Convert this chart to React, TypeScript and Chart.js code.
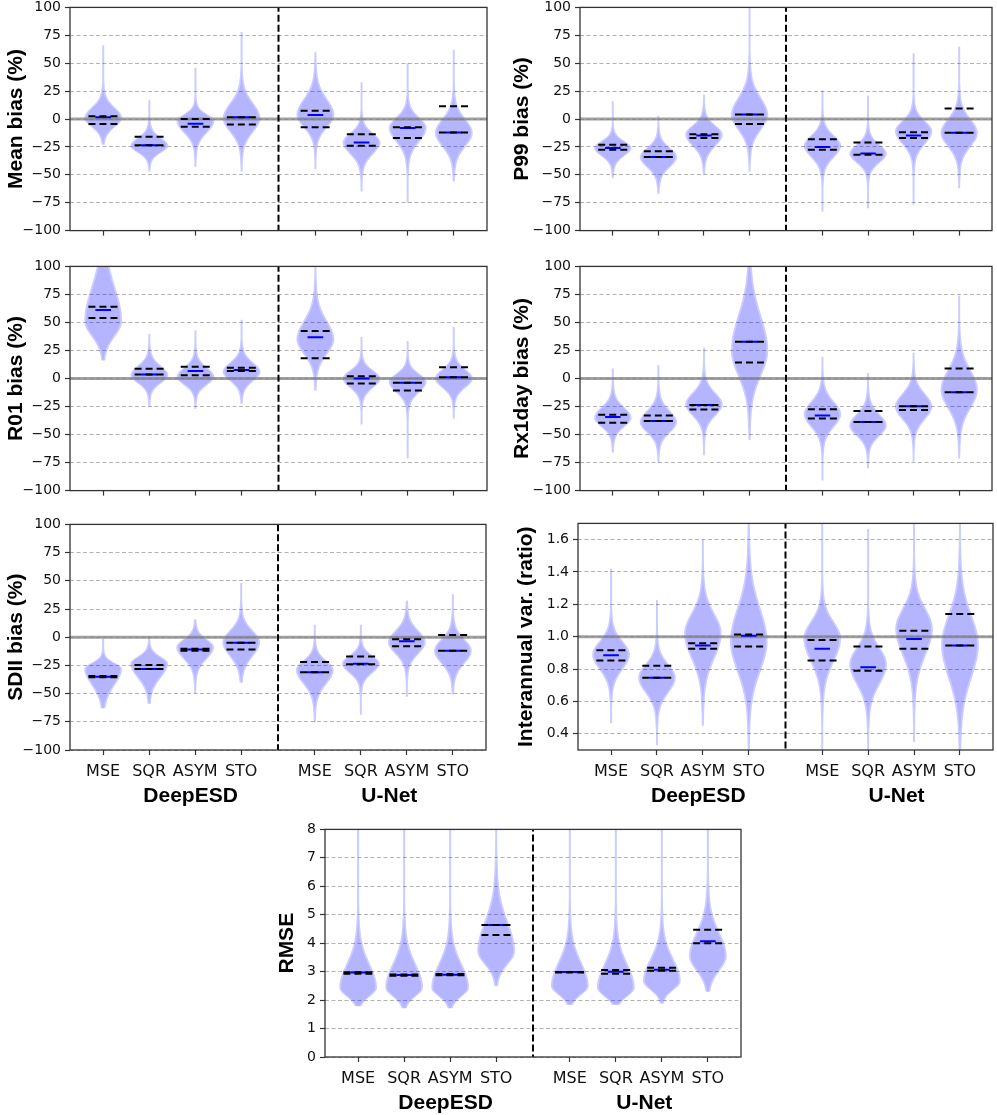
import React, { useEffect, useRef } from 'react';
import { Chart, registerables } from 'chart.js';

Chart.register(...registerables);

// ---------- categories & ticks ----------
const methodLabels = ['MSE', 'SQR', 'ASYM', 'STO', 'MSE', 'SQR', 'ASYM', 'STO'];
const modelLabels = ['DeepESD', 'U-Net'];
const violinPositions = [1, 2, 3, 4, 5.6, 6.6, 7.6, 8.6];
const modelLabelPositions = [2.9, 7.22];
const separatorPosition = 4.8;
const xMin = 0.28;
const xMax = 9.32;
const biasTicks = [-100, -75, -50, -25, 0, 25, 50, 75, 100];
const ratioTicks = [0.4, 0.6, 0.8, 1.0, 1.2, 1.4, 1.6];
const rmseTicks = [0, 1, 2, 3, 4, 5, 6, 7, 8];

// ---------- Mean bias (%) ----------
const meanMedian = [1.5, -23.5, -4.2, 1.5, 3.6, -21, -8, -12];
const meanUpperDash = [2.5, -16, 0, 1.5, 7.4, -13.6, -7.5, 11.5];
const meanLowerDash = [-4.5, -23.5, -7, -5, -7.4, -24, -17, -12];
const meanMode = [1, -24, -2, 0.7, 3.6, -21, -8, -12.4];
const meanSpreadUp = [9, 7, 6, 13, 14, 8, 9, 12];
const meanSpreadDown = [8, 6, 10, 12, 11, 10, 12, 12];
const meanMin = [-23, -47, -43, -47, -45, -65, -75, -56];
const meanMax = [66, 17, 46, 78, 60, 33, 50, 62];

// ---------- P99 bias (%) ----------
const p99Median = [-26, -34, -14.7, 4, -25, -31, -14.7, -12.4];
const p99UpperDash = [-23, -28.8, -13.6, 4, -18.2, -21, -11.8, 9.5];
const p99LowerDash = [-27.6, -34, -17, -4.5, -27.6, -32, -17, -12.4];
const p99Mode = [-26, -34, -14, 3.6, -24, -31, -11, -12.4];
const p99SpreadUp = [6, 8, 8, 15, 9, 8, 9, 12];
const p99SpreadDown = [7, 9, 10, 13, 10, 8, 11, 12];
const p99Min = [-53, -67, -50, -47, -83, -80, -76.6, -62];
const p99Max = [16, 3, 22, 115, 25.5, 21, 59, 65];

// ---------- R01 bias (%) ----------
const r01Median = [61, 3.5, 6.7, 7.6, 36.7, 0, -3.8, 1.2];
const r01UpperDash = [64, 8.7, 10.5, 9.6, 42.3, 2, -3.8, 10];
const r01LowerDash = [54, 3.5, 3, 6.7, 18, -4.4, -10.8, 1.2];
const r01Mode = [51, 3, 1.5, 6, 35, 0, -3, 0];
const r01SpreadUp = [30, 8, 8, 8, 16, 7, 7, 8];
const r01SpreadDown = [13, 7, 7, 8, 13, 8, 9, 8];
const r01Min = [16, -25, -27, -22.5, -11, -41, -71.4, -36];
const r01Max = [140, 40, 43, 52.5, 110, 37, 33.5, 46];

// ---------- Rx1day bias (%) ----------
const rx1Median = [-34.4, -38, -23.6, 32.7, -33, -38.8, -24.8, -12.2];
const rx1UpperDash = [-32.4, -33, -23.6, 32.7, -27.4, -28.9, -24.8, 9];
const rx1LowerDash = [-39.4, -38, -27.7, 14.3, -35.6, -38.8, -28, -12.2];
const rx1Mode = [-35, -39, -23, 25, -32, -42, -25, -10];
const rx1SpreadUp = [9, 10, 10, 30, 11, 10, 11, 17];
const rx1SpreadDown = [8, 9, 10, 22, 11, 9, 11, 16];
const rx1Min = [-66, -75, -68.5, -54.8, -91, -80, -74, -71.4];
const rx1Max = [9, 12, 27.7, 115, 19.5, 5, 23, 74];

// ---------- SDII bias (%) ----------
const sdiiMedian = [-35, -28.2, -11, -5, -31, -23.5, -3.6, -12];
const sdiiUpperDash = [-34.5, -24.7, -10.3, -5, -22, -17, -1.9, 2];
const sdiiLowerDash = [-35.5, -28.2, -12, -11, -31, -24, -8, -12];
const sdiiMode = [-28, -23.5, -9, -4.5, -29, -23.5, -4.5, -12];
const sdiiSpreadUp = [5, 6, 7, 10, 8, 7, 10, 10];
const sdiiSpreadDown = [14, 12, 10, 12, 12, 8, 10, 11];
const sdiiMin = [-63, -59, -50, -40.4, -75.5, -68.7, -52.7, -50.7];
const sdiiMax = [-1.6, 0.4, 16, 48, 11, 11, 32.5, 38];

// ---------- Interannual var. (ratio) ----------
const ivarMedian = [0.886, 0.747, 0.945, 1.006, 0.925, 0.812, 0.986, 0.945];
const ivarUpperDash = [0.916, 0.82, 0.96, 1.014, 0.98, 0.94, 1.037, 1.14];
const ivarLowerDash = [0.853, 0.747, 0.925, 0.94, 0.853, 0.79, 0.925, 0.945];
const ivarMode = [0.89, 0.747, 1.02, 0.97, 0.99, 0.83, 1.05, 0.95];
const ivarSpreadUp = [0.08, 0.08, 0.12, 0.2, 0.1, 0.1, 0.12, 0.18];
const ivarSpreadDown = [0.09, 0.09, 0.15, 0.18, 0.14, 0.12, 0.16, 0.2];
const ivarMin = [0.465, 0.33, 0.45, 0.2, 0.25, 0.25, 0.35, 0.25];
const ivarMax = [1.42, 1.227, 1.6, 2.0, 1.9, 1.665, 1.9, 1.9];

// ---------- RMSE ----------
const rmseMedian = [2.97, 2.88, 2.89, 4.64, 2.99, 3.0, 3.07, 4.07];
const rmseUpperDash = [2.98, 2.9, 2.92, 4.64, 2.99, 3.06, 3.14, 4.47];
const rmseLowerDash = [2.93, 2.86, 2.87, 4.29, 2.97, 2.93, 3.03, 4.0];
const rmseMode = [2.44, 2.44, 2.44, 3.72, 2.5, 2.44, 2.67, 3.55];
const rmseSpreadUp = [0.8, 0.8, 0.8, 1.0, 0.8, 0.8, 0.75, 0.8];
const rmseSpreadDown = [0.3, 0.3, 0.3, 0.45, 0.3, 0.3, 0.3, 0.5];
const rmseMin = [1.78, 1.71, 1.71, 2.5, 1.84, 1.84, 1.88, 2.29];
const rmseMax = [10, 10, 10, 10, 10, 10, 10, 10];

// ---------- styling / layout ----------
const VIOLIN_HALF = 0.41;
const MEDIAN_HALF = 0.17;
const DASH_HALF = 0.32;
const TITLE_FONT = { family: 'Liberation Sans', size: 21, weight: 'bold' as const };
const TICK_FONT = { family: 'DejaVu Sans', size: 14 };
const XLABEL_FONT = { family: 'DejaVu Sans', size: 16 };

const minus = (v: number) => (v < 0 ? '\u2212' + Math.abs(v) : String(v));

type Stats = {
  median: number[]; upper: number[]; lower: number[]; mode: number[];
  up: number[]; down: number[]; min: number[]; max: number[];
};
type PanelSpec = {
  title: string; L: number; T: number; R: number; B: number; titleX: number;
  xLabels: boolean; yMin: number; yMax: number; ticks: number[];
  fmt: (v: number) => string; ref: number | null; stats: Stats;
};

const panels: PanelSpec[] = [
  { title: 'Mean bias (%)', L: 70, T: 5, R: 487, B: 233, titleX: 17, xLabels: false, yMin: -100, yMax: 100, ticks: biasTicks, fmt: minus, ref: 0,
    stats: { median: meanMedian, upper: meanUpperDash, lower: meanLowerDash, mode: meanMode, up: meanSpreadUp, down: meanSpreadDown, min: meanMin, max: meanMax } },
  { title: 'P99 bias (%)', L: 580, T: 5, R: 992, B: 233, titleX: 523, xLabels: false, yMin: -100, yMax: 100, ticks: biasTicks, fmt: minus, ref: 0,
    stats: { median: p99Median, upper: p99UpperDash, lower: p99LowerDash, mode: p99Mode, up: p99SpreadUp, down: p99SpreadDown, min: p99Min, max: p99Max } },
  { title: 'R01 bias (%)', L: 70, T: 264, R: 487, B: 493, titleX: 17, xLabels: false, yMin: -100, yMax: 100, ticks: biasTicks, fmt: minus, ref: 0,
    stats: { median: r01Median, upper: r01UpperDash, lower: r01LowerDash, mode: r01Mode, up: r01SpreadUp, down: r01SpreadDown, min: r01Min, max: r01Max } },
  { title: 'Rx1day bias (%)', L: 580, T: 264, R: 992, B: 493, titleX: 523, xLabels: false, yMin: -100, yMax: 100, ticks: biasTicks, fmt: minus, ref: 0,
    stats: { median: rx1Median, upper: rx1UpperDash, lower: rx1LowerDash, mode: rx1Mode, up: rx1SpreadUp, down: rx1SpreadDown, min: rx1Min, max: rx1Max } },
  { title: 'SDII bias (%)', L: 70, T: 522, R: 486, B: 750, titleX: 17, xLabels: true, yMin: -100, yMax: 100, ticks: biasTicks, fmt: minus, ref: 0,
    stats: { median: sdiiMedian, upper: sdiiUpperDash, lower: sdiiLowerDash, mode: sdiiMode, up: sdiiSpreadUp, down: sdiiSpreadDown, min: sdiiMin, max: sdiiMax } },
  { title: 'Interannual var. (ratio)', L: 578, T: 521, R: 993, B: 750, titleX: 527, xLabels: true, yMin: 0.3, yMax: 1.7, ticks: ratioTicks, fmt: (v) => v.toFixed(1), ref: 1.0,
    stats: { median: ivarMedian, upper: ivarUpperDash, lower: ivarLowerDash, mode: ivarMode, up: ivarSpreadUp, down: ivarSpreadDown, min: ivarMin, max: ivarMax } },
  { title: 'RMSE', L: 325, T: 827, R: 741, B: 1057, titleX: 288, xLabels: true, yMin: 0, yMax: 8, ticks: rmseTicks, fmt: (v) => String(v), ref: null,
    stats: { median: rmseMedian, upper: rmseUpperDash, lower: rmseLowerDash, mode: rmseMode, up: rmseSpreadUp, down: rmseSpreadDown, min: rmseMin, max: rmseMax } },
];

// violin outline in data units, built from the read statistics
function outline(pos: number, s: Stats, i: number, withTail: boolean, scale: number) {
  const m = s.mode[i];
  const lo = s.min[i];
  const hi = s.max[i];
  const half = (y: number) => {
    const d = y - m;
    const z = d / (d > 0 ? s.up[i] : s.down[i]);
    const body = Math.exp(-0.5 * z * z);
    if (!withTail) return VIOLIN_HALF * scale * body;
    const tail = Math.exp(-0.5 * (z / 3) * (z / 3));
    return Math.max(0.022, VIOLIN_HALF * scale * (0.88 * body + 0.12 * tail));
  };
  let a = lo;
  let b = hi;
  if (!withTail) {
    a = Math.max(lo, m - 3.2 * s.down[i]);
    b = Math.min(hi, m + 3.2 * s.up[i]);
  }
  const n = 240;
  const pts: { x: number; y: number }[] = [];
  for (let k = 0; k <= n; k++) {
    const y = a + ((b - a) * k) / n;
    pts.push({ x: pos + half(y), y });
  }
  for (let k = n; k >= 0; k--) {
    const y = a + ((b - a) * k) / n;
    pts.push({ x: pos - half(y), y });
  }
  return pts;
}

function segments(values: number[], halfW: number) {
  const pts: { x: number; y: number | null }[] = [];
  values.forEach((v, i) => {
    const p = violinPositions[i];
    pts.push({ x: p - halfW, y: v }, { x: p + halfW, y: v }, { x: p, y: null });
  });
  return pts;
}

const violinPlugin = {
  id: 'violinFill',
  beforeDatasetDraw(chart: any, args: any) {
    const ds = chart.data.datasets[args.index];
    if (!ds.violinFill) return;
    const pts = args.meta.data;
    const { ctx, chartArea: a } = chart;
    ctx.save();
    ctx.beginPath();
    ctx.rect(a.left, a.top, a.right - a.left, a.bottom - a.top);
    ctx.clip();
    ctx.beginPath();
    pts.forEach((pt: any, k: number) => (k ? ctx.lineTo(pt.x, pt.y) : ctx.moveTo(pt.x, pt.y)));
    ctx.closePath();
    ctx.fillStyle = ds.violinFill;
    ctx.fill();
    ctx.restore();
  },
};

const framePlugin = {
  id: 'frame',
  afterDatasetsDraw(chart: any) {
    const { ctx, chartArea: a } = chart;
    ctx.save();
    ctx.strokeStyle = '#333';
    ctx.lineWidth = 1.3;
    ctx.setLineDash([]);
    ctx.strokeRect(a.left, a.top, a.right - a.left, a.bottom - a.top);
    ctx.restore();
  },
};

function geometry(p: PanelSpec) {
  const x = Math.round(p.titleX - (TITLE_FONT.size * 1.2) / 2);
  const y = p.T - 10;
  const xH = p.xLabels ? 30 : 10;
  const x2H = p.xLabels ? 34 : 0;
  const w = Math.min(997, p.R + 4) - x;
  const h = p.B + xH + x2H - y;
  return { x, y, w, h, xH, x2H, yW: p.L - x, rightPad: w - (p.R - x) };
}

function buildConfig(p: PanelSpec, g: ReturnType<typeof geometry>): any {
  const datasets: any[] = [];
  const common = { showLine: false, pointRadius: 0, pointHoverRadius: 0 };
  for (let i = 0; i < violinPositions.length; i++) {
    datasets.push({ ...common, data: outline(violinPositions[i], p.stats, i, true, 1), violinFill: 'rgba(0,0,255,0.2)', order: 20 });
    datasets.push({ ...common, data: outline(violinPositions[i], p.stats, i, false, 0.9), violinFill: 'rgba(0,0,255,0.12)', order: 19 });
  }
  const line = { showLine: true, pointRadius: 0, pointHoverRadius: 0, fill: false, spanGaps: false };
  if (p.ref !== null) {
    datasets.push({ ...line, data: [{ x: xMin, y: p.ref }, { x: xMax, y: p.ref }], borderColor: 'rgba(128,128,128,0.75)', borderWidth: 3, order: 3 });
  }
  datasets.push({ ...line, data: segments(p.stats.median, MEDIAN_HALF), borderColor: '#0000ff', borderWidth: 2, order: 2 });
  datasets.push({ ...line, data: segments(p.stats.upper, DASH_HALF).concat(segments(p.stats.lower, DASH_HALF)), borderColor: '#000', borderWidth: 2, borderDash: [7, 4], order: 1 });
  datasets.push({ ...line, data: [{ x: separatorPosition, y: p.yMin - 10 }, { x: separatorPosition, y: p.yMax + 10 }], borderColor: '#000', borderWidth: 2, borderDash: [7, 3], order: 0 });

  const scales: any = {
    x: {
      type: 'linear', position: 'bottom', min: xMin, max: xMax, weight: 0,
      afterBuildTicks: (s: any) => { s.ticks = violinPositions.map((v) => ({ value: v })); },
      afterFit: (s: any) => { s.height = g.xH; },
      ticks: { display: p.xLabels, autoSkip: false, maxRotation: 0, minRotation: 0, padding: 7, color: '#111', font: XLABEL_FONT, callback: (_v: any, i: number) => methodLabels[i] },
      grid: { display: true, drawOnChartArea: false, drawTicks: true, tickLength: 5, tickColor: '#333', tickWidth: 1.2 },
      border: { display: false },
    },
    y: {
      type: 'linear', position: 'left', min: p.yMin, max: p.yMax,
      afterBuildTicks: (s: any) => { s.ticks = p.ticks.map((v) => ({ value: v })); },
      afterFit: (s: any) => { s.width = g.yW; },
      ticks: { autoSkip: false, padding: 4, color: '#111', font: TICK_FONT, callback: (v: any) => p.fmt(Number(v)) },
      grid: { color: 'rgba(0,0,0,0.3)', lineWidth: 1, drawTicks: true, tickLength: 5, tickColor: '#333', tickWidth: 1.2 },
      border: { display: false, dash: [4, 2.5] },
      title: { display: true, text: p.title, color: '#000', font: TITLE_FONT, padding: 0 },
    },
  };
  if (p.xLabels) {
    scales.x2 = {
      type: 'linear', position: 'bottom', min: xMin, max: xMax, weight: 1,
      afterBuildTicks: (s: any) => { s.ticks = modelLabelPositions.map((v) => ({ value: v })); },
      afterFit: (s: any) => { s.height = g.x2H; },
      ticks: { autoSkip: false, maxRotation: 0, minRotation: 0, padding: -4, color: '#000', font: TITLE_FONT, callback: (_v: any, i: number) => modelLabels[i] },
      grid: { display: false },
      border: { display: false },
    };
  }
  return {
    type: 'scatter',
    data: { datasets },
    options: {
      responsive: false,
      animation: false,
      events: [],
      devicePixelRatio: 1,
      layout: { padding: { left: 0, top: 10, right: g.rightPad, bottom: 0 } },
      plugins: { legend: { display: false }, tooltip: { enabled: false }, title: { display: false } },
      scales,
    },
    plugins: [violinPlugin, framePlugin],
  };
}

function Panel({ spec }: { spec: PanelSpec }) {
  const ref = useRef<HTMLCanvasElement>(null);
  const g = geometry(spec);
  useEffect(() => {
    const chart = new Chart(ref.current as HTMLCanvasElement, buildConfig(spec, g));
    return () => chart.destroy();
  }, []);
  return (
    <canvas
      ref={ref}
      width={g.w}
      height={g.h}
      style={{ position: 'absolute', left: g.x, top: g.y, width: g.w, height: g.h }}
    />
  );
}

export default function App() {
  return (
    <div style={{ position: 'absolute', left: 0, top: 0, width: 997, height: 1115, overflow: 'hidden', background: '#fff' }}>
      {panels.map((p) => (
        <Panel key={p.title} spec={p} />
      ))}
    </div>
  );
}
